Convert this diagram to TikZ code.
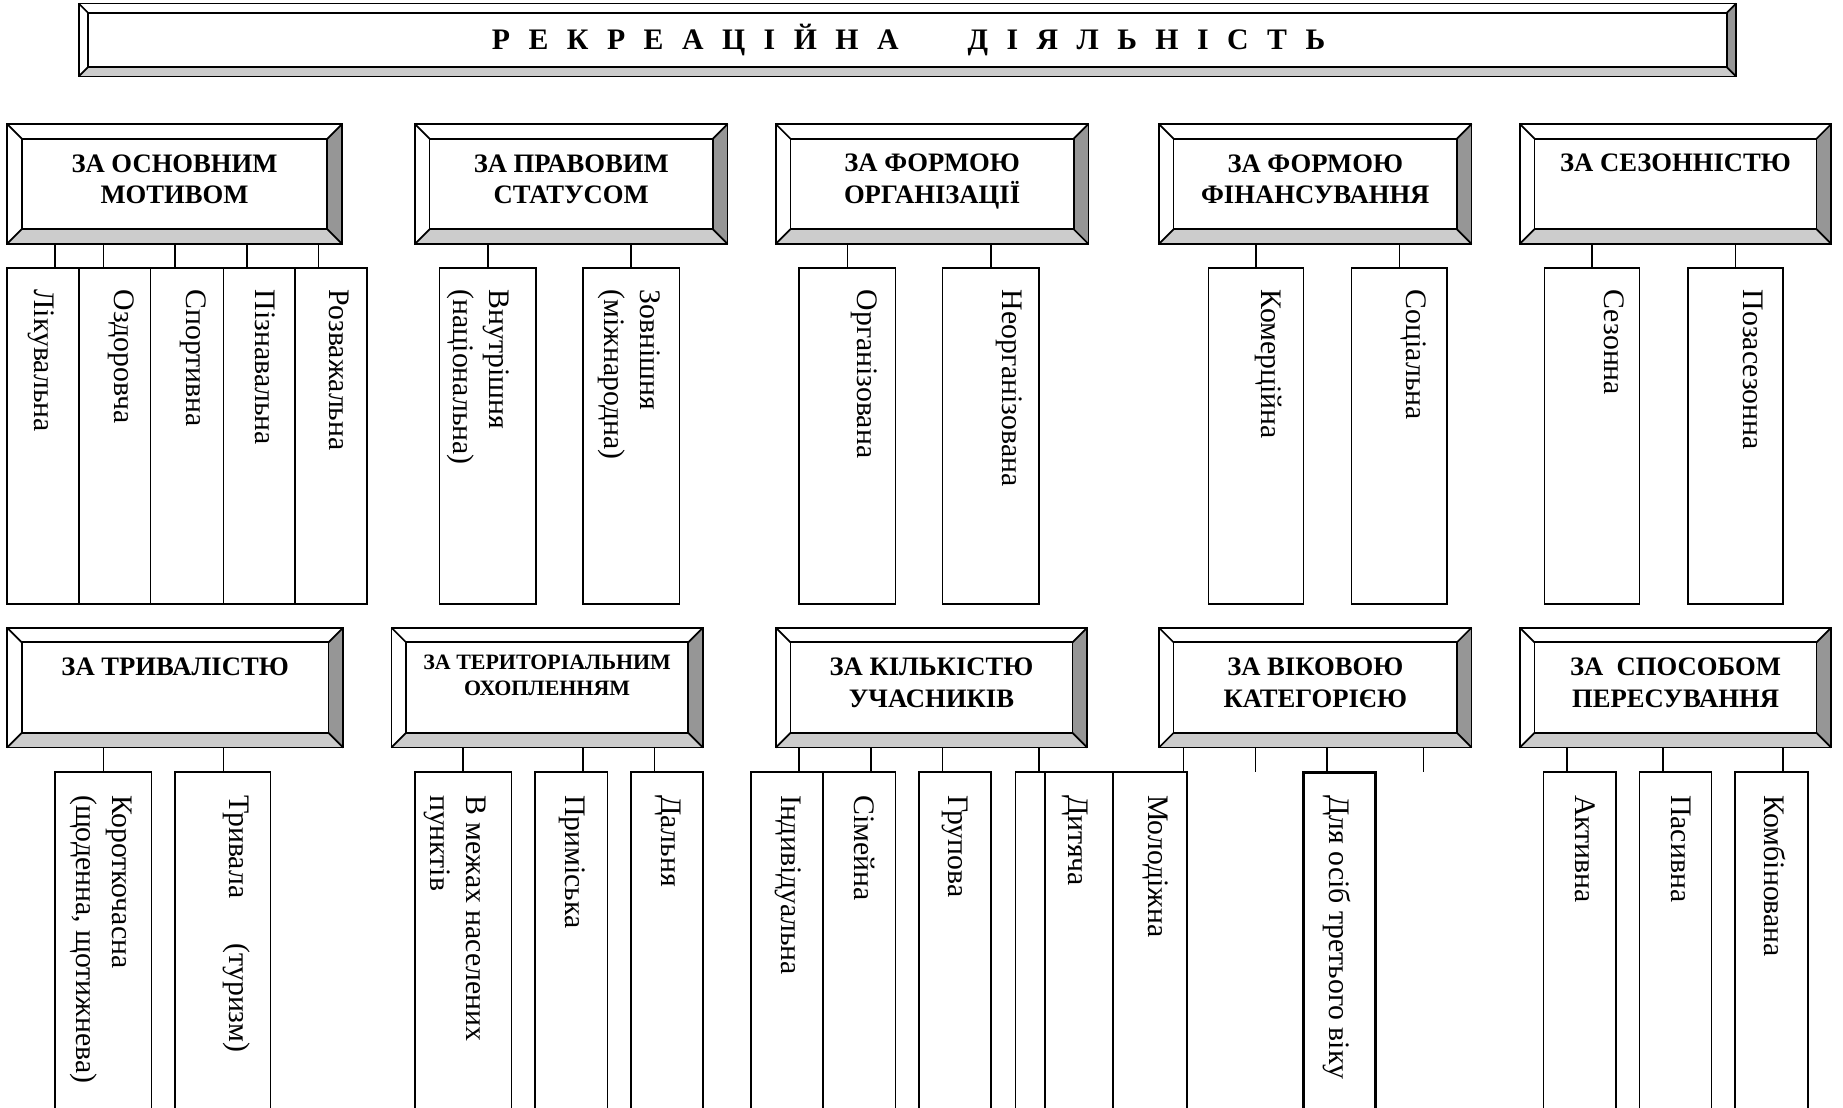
\documentclass[tikz,border=0pt]{standalone}
\usepackage{fontspec}
\setmainfont{Liberation Serif}
\usetikzlibrary{calc}

\definecolor{bevlowgray}{RGB}{204,204,204}
\definecolor{bevsidegray}{RGB}{150,150,150}

\tikzset{every picture/.style={line width=0.75pt}}
\tikzset{
  boxsize/.style 2 args={minimum width=#1*0.75pt, minimum height=#2*0.75pt},
  bevbox/.style={draw, fill=white, inner sep=0pt, outer sep=0pt, line width=1.1pt},
  bevline/.style={line width=1.1pt},
  bevlow/.style={fill=bevlowgray},
  bevside/.style={fill=bevsidegray},
  titletext/.style={anchor=base, inner sep=0pt, font=\fontsize{19}{23}\selectfont\bfseries},
  hdrtext/.style={align=center, inner sep=0pt, font=\fontsize{17}{20.25}\selectfont\bfseries},
  hdrsmall/.style={align=center, inner sep=0pt, font=\fontsize{14}{16.5}\selectfont\bfseries},
  leaf/.style={draw, fill=white, inner sep=0pt, outer sep=0pt, line width=1pt},
  thickleaf/.style={leaf, line width=1.7pt},
  vtext/.style={rotate=-90, anchor=north west, inner sep=0pt, align=left, font=\fontsize{19}{23}\selectfont},
  stub/.style={line width=1pt}
}

% bevel bands round a node: #1 node, #2 band width
\newcommand{\bevelframe}[2]{%
  \fill[bevlow] (#1.south west) -- (#1.south east) -- ($(#1.south east)+(-#2,-#2)$) -- ($(#1.south west)+(#2,-#2)$) -- cycle;
  \fill[bevside] (#1.south east) -- (#1.north east) -- ($(#1.north east)+(-#2,#2)$) -- ($(#1.south east)+(-#2,-#2)$) -- cycle;
  \draw[bevline] (#1.south west) rectangle (#1.north east);
  \draw[bevline] ($(#1.north west)+(#2,#2)$) rectangle ($(#1.south east)+(-#2,-#2)$);
  \draw[bevline] (#1.north west) -- ++(#2,#2) (#1.north east) -- ++(-#2,#2)
    (#1.south west) -- ++(#2,-#2) (#1.south east) -- ++(-#2,-#2);
}

\begin{document}
\begin{tikzpicture}[x=0.75pt,y=0.75pt,yscale=-1,xscale=1]
\useasboundingbox (0,0) rectangle (1568,942);
\clip (0,0) rectangle (1568,942);

%Shape: Bevel [title]
\node[bevbox, boxsize={1410}{62}] (title) at (772,34) {};
\bevelframe{title}{8}
\node[titletext] (titleT) at (773,42.5) {\spaceskip=11.8pt Р Е К Р Е А Ц І Й Н А\hspace{44pt}Д І Я Л Ь Н І С Т Ь};

%Shape: Bevel [upper headers]
\node[bevbox, boxsize={285}{102}] (motiv) at (148.5,156.5) {};
\bevelframe{motiv}{12.5}
\node[hdrtext] (motivT) at (148.5,152.5) {ЗА ОСНОВНИМ\\МОТИВОМ};

\node[bevbox, boxsize={266}{102}] (status) at (486,156.5) {};
\bevelframe{status}{12.5}
\node[hdrtext] (statusT) at (486,152.5) {ЗА ПРАВОВИМ\\СТАТУСОМ};

\node[bevbox, boxsize={266}{102}] (orgform) at (793,156.5) {};
\bevelframe{orgform}{12.5}
\node[hdrtext] (orgformT) at (793,154.5) {ЗА ФОРМОЮ\\ОРГАНІЗАЦІЇ};

\node[bevbox, boxsize={266}{102}] (finform) at (1119,156.5) {};
\bevelframe{finform}{12.5}
\node[hdrtext] (finformT) at (1119,152.5) {ЗА ФОРМОЮ\\ФІНАНСУВАННЯ};

\node[bevbox, boxsize={265}{102}] (sezon) at (1425.5,156.5) {};
\bevelframe{sezon}{12.5}
\node[hdrtext] (sezonT) at (1425.5,138.5) {ЗА СЕЗОННІСТЮ};

%Shape: Rectangle [upper leaves]
\node[leaf, boxsize={61}{286}] (lik) at (36.5,371) {};
\node[leaf, boxsize={61}{286}] (ozd) at (97.5,371) {};
\node[leaf, boxsize={62}{286}] (sport) at (159,371) {};
\node[leaf, boxsize={61}{286}] (pizn) at (220.5,371) {};
\node[leaf, boxsize={61}{286}] (rozv) at (281.5,371) {};
\node[leaf, boxsize={82}{286}] (vnutr) at (415,371) {};
\node[leaf, boxsize={82}{286}] (zovn) at (537,371) {};
\node[leaf, boxsize={82}{286}] (org) at (721,371) {};
\node[leaf, boxsize={82}{286}] (neorg) at (843,371) {};
\node[leaf, boxsize={81}{286}] (komer) at (1068.5,371) {};
\node[leaf, boxsize={81}{286}] (socz) at (1190.5,371) {};
\node[leaf, boxsize={81}{286}] (sez) at (1354.5,371) {};
\node[leaf, boxsize={81}{286}] (pozas) at (1476.5,371) {};

%Straight Lines [upper stubs]
\draw[stub] (47,0 |- motiv.south) -- (47,0 |- lik.north);
\draw[stub] (88,0 |- motiv.south) -- (88,0 |- ozd.north);
\draw[stub] (149,0 |- motiv.south) -- (149,0 |- sport.north);
\draw[stub] (210,0 |- motiv.south) -- (210,0 |- pizn.north);
\draw[stub] (271,0 |- motiv.south) -- (271,0 |- rozv.north);
\draw[stub] (vnutr.north |- status.south) -- (vnutr.north);
\draw[stub] (zovn.north |- status.south) -- (zovn.north);
\draw[stub] (org.north |- orgform.south) -- (org.north);
\draw[stub] (neorg.north |- orgform.south) -- (neorg.north);
\draw[stub] (komer.north |- finform.south) -- (komer.north);
\draw[stub] (socz.north |- finform.south) -- (socz.north);
\draw[stub] (sez.north |- sezon.south) -- (sez.north);
\draw[stub] (pozas.north |- sezon.south) -- (pozas.north);

%Text Node [upper leaves]
\node[vtext] (likT) at (47,246) {Лікувальна};
\node[vtext] (ozdT) at (115,246) {Оздоровча};
\node[vtext] (sportT) at (176,246) {Спортивна};
\node[vtext] (piznT) at (235,246) {Пізнавальна};
\node[vtext] (rozvT) at (297,246) {Розважальна};
\node[vtext] (vnutrT) at (434,246) {Внутрішня\\(національна)};
\node[vtext] (zovnT) at (562,246) {Зовнішня\\(міжнародна)};
\node[vtext] (orgT) at (747,246) {Організована};
\node[vtext] (neorgT) at (870,246) {Неорганізована};
\node[vtext] (komerT) at (1091,246) {Комерційна};
\node[vtext] (soczT) at (1214,246) {Соціальна};
\node[vtext] (sezT) at (1382,246) {Сезонна};
\node[vtext] (pozasT) at (1500,246) {Позасезонна};

%Shape: Bevel [lower headers]
\node[bevbox, boxsize={286}{102}] (tryv) at (149,585) {};
\bevelframe{tryv}{12.5}
\node[hdrtext] (tryvT) at (149,567.5) {ЗА ТРИВАЛІСТЮ};

\node[bevbox, boxsize={265}{102}] (terit) at (465.5,585) {};
\bevelframe{terit}{12.5}
\node[hdrsmall] (teritT) at (465.5,574.5) {ЗА ТЕРИТОРІАЛЬНИМ\\ОХОПЛЕННЯМ};

\node[bevbox, boxsize={265}{102}] (kilk) at (792.5,585) {};
\bevelframe{kilk}{12.5}
\node[hdrtext] (kilkT) at (792.5,581) {ЗА КІЛЬКІСТЮ\\УЧАСНИКІВ};

\node[bevbox, boxsize={266}{102}] (vik) at (1119,585) {};
\bevelframe{vik}{12.5}
\node[hdrtext] (vikT) at (1119,581) {ЗА ВІКОВОЮ\\КАТЕГОРІЄЮ};

\node[bevbox, boxsize={265}{102}] (sposib) at (1425.5,585) {};
\bevelframe{sposib}{12.5}
\node[hdrtext] (sposibT) at (1425.5,581) {ЗА\ \ СПОСОБОМ\\ПЕРЕСУВАННЯ};

%Shape: Rectangle [lower leaves]
\node[leaf, boxsize={82}{333}] (korot) at (88,823.5) {};
\node[leaf, boxsize={81}{333}] (tryval) at (189.5,823.5) {};
\node[leaf, boxsize={82}{333}] (mezh) at (394,823.5) {};
\node[leaf, boxsize={62}{333}] (prym) at (486,823.5) {};
\node[leaf, boxsize={61}{333}] (daln) at (567.5,823.5) {};
\node[leaf, boxsize={61}{333}] (indyv) at (669.5,823.5) {};
\node[leaf, boxsize={62}{333}] (simei) at (731,823.5) {};
\node[leaf, boxsize={61}{333}] (grup) at (812.5,823.5) {};
\node[leaf, boxsize={136}{333}] (masov) at (932,823.5) {};
\node[leaf, boxsize={58}{333}] (dyt) at (918,823.5) {};
\node[leaf, boxsize={63}{333}] (molod) at (978.5,823.5) {};
\node[thickleaf, boxsize={61}{333}] (tretv) at (1139.5,823.5) {};
\node[leaf, boxsize={62}{333}] (aktyv) at (1344,823.5) {};
\node[leaf, boxsize={61}{333}] (pasyv) at (1425.5,823.5) {};
\node[leaf, boxsize={62}{333}] (komb) at (1507,823.5) {};
\coordinate (vikA) at (1068,657);
\coordinate (vikB) at (1211,657);

%Straight Lines [lower stubs]
\draw[stub] (korot.north |- tryv.south) -- (korot.north);
\draw[stub] (190,0 |- tryv.south) -- (190,0 |- tryval.north);
\draw[stub] (mezh.north |- terit.south) -- (mezh.north);
\draw[stub] (496,0 |- terit.south) -- (496,0 |- prym.north);
\draw[stub] (557,0 |- terit.south) -- (557,0 |- daln.north);
\draw[stub] (680,0 |- kilk.south) -- (680,0 |- indyv.north);
\draw[stub] (741,0 |- kilk.south) -- (741,0 |- simei.north);
\draw[stub] (802,0 |- kilk.south) -- (802,0 |- grup.north);
\draw[stub] (884,0 |- kilk.south) -- (884,0 |- masov.north);
\draw[stub] (1007,0 |- vik.south) -- (1007,0 |- molod.north);
\draw[stub] (vikA |- vik.south) -- (vikA);
\draw[stub] (1129,0 |- vik.south) -- (1129,0 |- tretv.north);
\draw[stub] (vikB |- vik.south) -- (vikB);
\draw[stub] (1333,0 |- sposib.south) -- (1333,0 |- aktyv.north);
\draw[stub] (1415,0 |- sposib.south) -- (1415,0 |- pasyv.north);
\draw[stub] (1517,0 |- sposib.south) -- (1517,0 |- komb.north);

%Text Node [lower leaves]
\node[vtext] (korotT) at (113,676) {Короткочасна\\(щоденна, щотижнева)};
\node[vtext] (tryvalT) at (213,676) {Тривала\hspace{29pt}(туризм)};
\node[vtext] (mezhT) at (414,676) {В межах населених\\пунктів};
\node[vtext] (prymT) at (498,676) {Приміська};
\node[vtext] (dalnT) at (580,676) {Дальня};
\node[vtext] (indyvT) at (682,676) {Індивідуальна};
\node[vtext] (simeiT) at (745,676) {Сімейна};
\node[vtext] (grupT) at (824,676) {Групова};
\node[vtext] (dytT) at (926,676) {Дитяча};
\node[vtext] (molodT) at (994,676) {Молодіжна};
\node[vtext] (tretvT) at (1150,676) {Для осіб третього віку};
\node[vtext] (aktyvT) at (1358,676) {Активна};
\node[vtext] (pasyvT) at (1439,676) {Пасивна};
\node[vtext] (kombT) at (1520,676) {Комбінована};

\end{tikzpicture}
\end{document}
